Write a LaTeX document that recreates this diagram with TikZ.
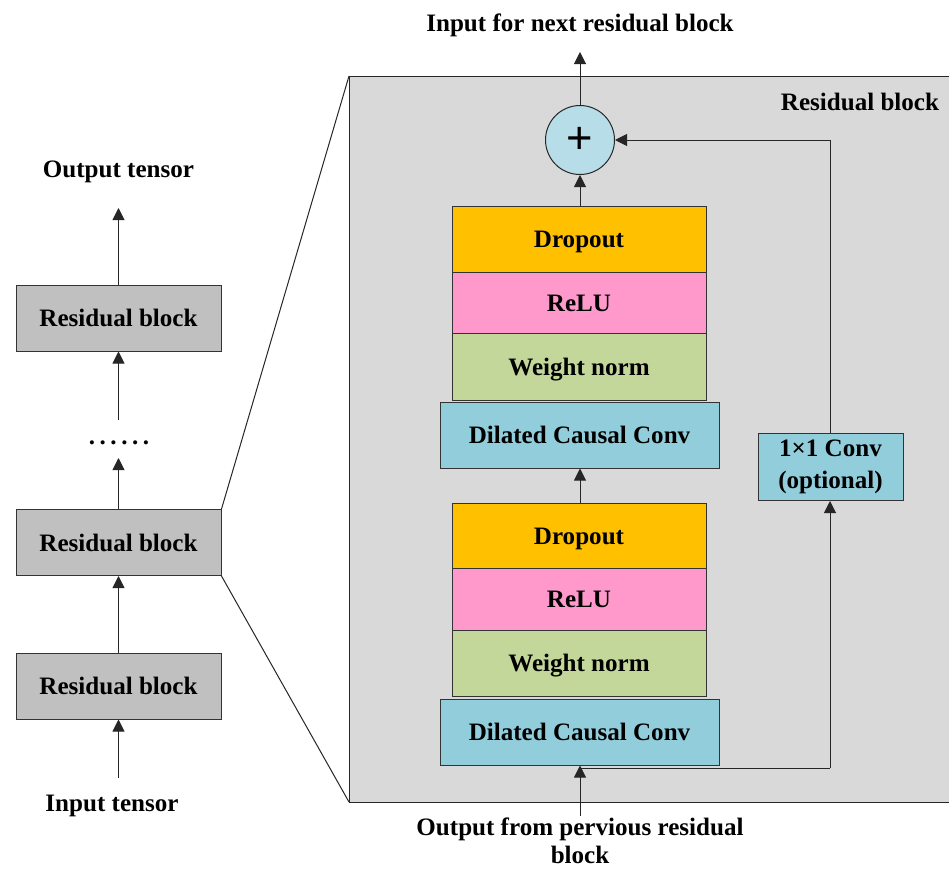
\documentclass[tikz,border=0pt]{standalone}
\usepackage{fontspec}
\setmainfont{Liberation Serif}
\newfontfamily\plusfont{Liberation Sans}
\usetikzlibrary{arrows.meta}
\definecolor{bggray}{HTML}{D9D9D9}
\definecolor{blkgray}{HTML}{C0C0C0}
\definecolor{dropc}{HTML}{FFC000}
\definecolor{reluc}{HTML}{FF99CC}
\definecolor{wnc}{HTML}{C4D79B}
\definecolor{dccc}{HTML}{92CDDC}
\definecolor{plusc}{HTML}{B7DDE8}
\tikzset{
  every node/.style={font=\fontsize{18.8}{23}\selectfont\bfseries},
  box/.style={draw=black!80, line width=0.75pt, inner sep=0pt, align=center, text height=15pt, text depth=2pt},
  lblock/.style={box, fill=blkgray, minimum width=205*0.75pt, minimum height=66*0.75pt},
  layer/.style={box, minimum width=254*0.75pt},
  dccbox/.style={box, fill=dccc, minimum width=279*0.75pt, minimum height=66*0.75pt},
  arr/.style={draw=black!85, line width=0.75pt, -{Triangle[length=9pt,width=9pt]}},
  ln/.style={draw=black!85, line width=0.75pt},
}
\begin{document}
\begin{tikzpicture}[x=0.75pt,y=-0.75pt]
\useasboundingbox (0,0) rectangle (949,868);
% big gray residual block area
\fill[bggray] (349,76) rectangle (952,802);
\draw[ln] (952,76) -- (349,76) -- (349,802) -- (952,802);
\node (rbl) at (860,102) {Residual block};

% left column
\node[lblock] (b3) at (118.5,318) {Residual block};
\node[lblock] (b2) at (118.5,542.5) {Residual block};
\node[lblock] (b1) at (118.5,686) {Residual block};
\node (outt) at (118.5,172) {Output tensor};
\node (dots) at (119,443) {.\kern3.4pt.\kern3.4pt.\kern3.4pt.\kern3.4pt.\kern3.4pt.};
\node (int) at (112,806) {Input tensor};
\coordinate (o3) at (118.5,208);
\coordinate (d1) at (118.5,420);
\coordinate (d2) at (118.5,458);
\coordinate (i1) at (118.5,778);
\draw[arr] (b3.north) -- (o3);
\draw[arr] (d1) -- (b3.south);
\draw[arr] (b2.north) -- (d2);
\draw[arr] (b1.north) -- (b2.south);
\draw[arr] (i1) -- (b1.south);

% zoom lines
\draw[ln] (b2.north east) -- (349,76);
\draw[ln] (b2.south east) -- (349,802);

% right stack
\node[circle, draw=black!85, line width=0.75pt, fill=plusc, minimum size=69*0.75pt, inner sep=0pt, font=\plusfont\fontsize{34}{34}\selectfont] (plus) at (580,140) {+};
\node[layer, fill=dropc, minimum height=66*0.75pt] (dr2) at (579,239) {Dropout};
\node[layer, fill=reluc, minimum height=61*0.75pt] (re2) at (579,302.5) {ReLU};
\node[layer, fill=wnc, minimum height=67*0.75pt] (wn2) at (579,366.5) {Weight norm};
\node[dccbox] (dc2) at (579.5,435) {Dilated Causal Conv};
\node[layer, fill=dropc, minimum height=65*0.75pt] (dr1) at (579,535.5) {Dropout};
\node[layer, fill=reluc, minimum height=62*0.75pt] (re1) at (579,599) {ReLU};
\node[layer, fill=wnc, minimum height=66*0.75pt] (wn1) at (579,663) {Weight norm};
\node[dccbox] (dc1) at (579.5,732) {Dilated Causal Conv};
\node[draw=black!80, line width=0.75pt, inner sep=0pt, align=center, fill=dccc, minimum width=145*0.75pt, minimum height=67*0.75pt, font=\fontsize{18.8}{24}\selectfont\bfseries] (conv) at (830.5,467) {1\texttimes1 Conv\\(optional)};

\node (nxt) at (580,25) {Input for next residual block};
\node[align=center, font=\fontsize{18.8}{21}\selectfont\bfseries] (prev) at (580,841) {Output from pervious residual\\block};

\coordinate (top) at (580,52);
\coordinate (inp) at (580,816);
\coordinate (sk0) at (580,768);
\coordinate (sk1) at (830,768);
\draw[arr] (plus.north) -- (top);
\draw[arr] (dr2.north -| plus) -- (plus.south);
\draw[arr] (dr1.north -| plus) -- (dc2.south -| plus);
\draw[arr] (inp) -- (dc1.south -| plus);
\draw[ln] (sk0) -- (sk1);
\draw[arr] (sk1) -- (sk1 |- conv.south);
\draw[arr] (sk1 |- conv.north) |- (plus.east);
\end{tikzpicture}
\end{document}
